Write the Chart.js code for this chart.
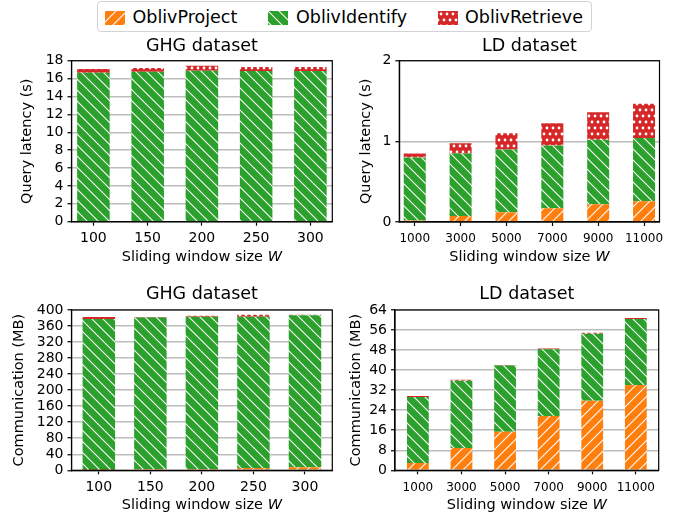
<!DOCTYPE html>
<html>
<head>
<meta charset="utf-8">
<script src="https://cdn.jsdelivr.net/npm/chart.js@4.4.0/dist/chart.umd.min.js"></script>
<style>
  body { margin: 0; background: #fff; width: 686px; height: 520px; position: relative; overflow: hidden; font-family: 'DejaVu Sans', sans-serif; }
  canvas.plot { position: absolute; }
  #legend { position: absolute; left: 97px; top: 1px; width: 495px; height: 31px; border: 1px solid #d3d3d3; border-radius: 4px; box-sizing: border-box; }
  .patch { position: absolute; top: 9px; }
  .lbl { position: absolute; top: 5px; font-size: 17.5px; line-height: 20px; color: #000; white-space: nowrap; }
</style>
</head>
<body>
<div id="legend"></div>
<canvas class="plot" id="latGhg" width="343" height="231" style="left:0;top:35px"></canvas>
<canvas class="plot" id="latLd" width="343" height="231" style="left:343px;top:35px"></canvas>
<canvas class="plot" id="comGhg" width="343" height="232" style="left:0;top:282px"></canvas>
<canvas class="plot" id="comLd" width="343" height="232" style="left:343px;top:282px"></canvas>
<script>
// --- datos ---
const seriesNames = ['OblivProject', 'OblivIdentify', 'OblivRetrieve'];
const ghgSizes = ['100', '150', '200', '250', '300'];
const ldSizes = ['1000', '3000', '5000', '7000', '9000', '11000'];

// ticks del eje y
const ghgLatTicks = [0, 2, 4, 6, 8, 10, 12, 14, 16, 18];
const ldLatTicks = [0, 1, 2];
const ghgComTicks = [0, 40, 80, 120, 160, 200, 240, 280, 320, 360, 400];
const ldComTicks = [0, 8, 16, 24, 32, 40, 48, 56, 64];

// query latency (s), GHG
const ghgLatProject = [0.02, 0.02, 0.02, 0.02, 0.02];
const ghgLatIdentify = [16.64, 16.75, 16.86, 16.83, 16.83];
const ghgLatRetrieve = [0.41, 0.41, 0.56, 0.44, 0.44];

// query latency (s), LD
const ldLatProject = [0.02, 0.075, 0.12, 0.17, 0.22, 0.257];
const ldLatIdentify = [0.78, 0.775, 0.78, 0.78, 0.80, 0.786];
const ldLatRetrieve = [0.05, 0.125, 0.20, 0.275, 0.34, 0.423];

// communication (MB), GHG
const ghgComProject = [0.5, 3.3, 3.3, 5.8, 7.5];
const ghgComIdentify = [377, 377.7, 380.1, 377.6, 379.2];
const ghgComRetrieve = [5.0, 1.5, 2.5, 5.0, 1.7];

// communication (MB), LD
const ldComProject = [2.93, 8.9, 15.4, 21.7, 27.8, 34.06];
const ldComIdentify = [26.34, 26.9, 26.4, 26.6, 26.7, 26.34];
const ldComRetrieve = [0.4, 0.4, 0.2, 0.3, 0.4, 0.4];

const FONT = "'DejaVu Sans', sans-serif";
const ORANGE = '#ff7f0e', GREEN = '#2ca02c', RED = '#d62728';

// --- patrones (hatch) ---
function hatch(kind, color) {
    const s = kind === 'dots' ? 12 : 11;
    const c = document.createElement('canvas');
    c.width = s; c.height = s;
    const g = c.getContext('2d');
    g.fillStyle = color;
    g.fillRect(0, 0, s, s);
    g.strokeStyle = '#fff';
    g.fillStyle = '#fff';
    g.lineWidth = 1.1;
    if (kind === 'dots') {
        const dots = [[3, 3], [9, 3], [0, 9], [6, 9], [12, 9]];
        dots.forEach(([x, y]) => {
            g.beginPath();
            g.arc(x, y, 1.4, 0, Math.PI * 2);
            g.fill();
        });
    } else {
        for (const o of [-s, 0, s]) {
            g.beginPath();
            if (kind === 'back') { g.moveTo(o - 1, -1); g.lineTo(o + s + 1, s + 1); }
            else { g.moveTo(o - 1, s + 1); g.lineTo(o + s + 1, -1); }
            g.stroke();
        }
    }
    return g.createPattern(c, 'repeat');
}

const fills = [hatch('fwd', ORANGE), hatch('back', GREEN), hatch('dots', RED)];

// --- leyenda ---
const legendItems = [
    { patch: 104, text: 131.5 },
    { patch: 267, text: 295 },
    { patch: 437, text: 464 }
];
legendItems.forEach((it, i) => {
    const pc = document.createElement('canvas');
    pc.width = 20; pc.height = 14;
    pc.className = 'patch';
    pc.style.left = (it.patch - 97) + 'px';
    const pg = pc.getContext('2d');
    pg.fillStyle = fills[i];
    pg.fillRect(0, 0, 20, 14);
    document.getElementById('legend').appendChild(pc);
    const sp = document.createElement('span');
    sp.className = 'lbl';
    sp.style.left = (it.text - 97) + 'px';
    sp.textContent = seriesNames[i];
    document.getElementById('legend').appendChild(sp);
});

// --- plugins ---
const frame = {
    id: 'frame',
    afterDatasetsDraw(chart) {
        const { ctx, chartArea: a } = chart;
        ctx.save();
        ctx.strokeStyle = '#000';
        ctx.lineWidth = 1.2;
        ctx.strokeRect(a.left, a.top, a.right - a.left, a.bottom - a.top);
        ctx.restore();
    }
};

// título centrado sobre el área del gráfico + "Sliding window size W" con W en cursiva
const labels = {
    id: 'labels',
    afterDraw(chart) {
        const { ctx, chartArea: a } = chart;
        const o = chart.options.plugins.labels;
        const cx = (a.left + a.right) / 2;
        ctx.save();
        ctx.fillStyle = '#000';
        ctx.textBaseline = 'middle';
        ctx.textAlign = 'center';
        ctx.font = '17.5px ' + FONT;
        ctx.fillText(o.title, cx, a.top - o.titleDy);

        ctx.textAlign = 'left';
        const y = a.bottom + o.xLabelDy;
        const main = 'Sliding window size ';
        ctx.font = '14.5px ' + FONT;
        const w1 = ctx.measureText(main).width;
        ctx.font = 'italic 14.5px ' + FONT;
        const w2 = ctx.measureText('W').width;
        const x0 = cx - (w1 + w2) / 2;
        ctx.font = '14.5px ' + FONT;
        ctx.fillText(main, x0, y);
        ctx.font = 'italic 14.5px ' + FONT;
        ctx.fillText('W', x0 + w1, y);
        ctx.restore();
    }
};

function makeChart(id, cats, yTicks, proj, ident, retr, cfg) {
    const pts = arr => arr.map((v, i) => ({ x: i, y: v }));
    const values = [proj, ident, retr];
    new Chart(document.getElementById(id), {
        type: 'bar',
        data: {
            datasets: values.map((v, i) => ({
                label: seriesNames[i],
                data: pts(v),
                backgroundColor: fills[i],
                borderWidth: 0
            }))
        },
        options: {
            responsive: false,
            animation: false,
            layout: { padding: { top: cfg.padTop, right: cfg.padRight } },
            datasets: { bar: { categoryPercentage: 1, barPercentage: cfg.barWidth } },
            plugins: {
                legend: { display: false },
                tooltip: { enabled: false },
                title: { display: false },
                labels: { title: cfg.title, titleDy: cfg.titleDy, xLabelDy: cfg.xLabelDy }
            },
            scales: {
                x: {
                    type: 'linear',
                    stacked: true,
                    offset: false,
                    min: cfg.xmin,
                    max: cfg.xmax,
                    afterBuildTicks: s => { s.ticks = cats.map((c, i) => ({ value: i })); },
                    afterFit: s => { s.height = cfg.xHeight; },
                    ticks: {
                        callback: v => cats[v],
                        color: '#000',
                        font: { size: cfg.xFont, family: FONT },
                        padding: cfg.xPad,
                        maxRotation: 0,
                        autoSkip: false
                    },
                    grid: { offset: false, drawOnChartArea: false, tickLength: 4, tickColor: '#000', tickWidth: 1.2 },
                    border: { color: '#000', width: 1.2 }
                },
                y: {
                    stacked: true,
                    min: 0,
                    max: yTicks[yTicks.length - 1],
                    afterBuildTicks: s => { s.ticks = yTicks.map(v => ({ value: v })); },
                    afterFit: s => { s.width = cfg.yWidth; },
                    ticks: {
                        autoSkip: false,
                        color: '#000',
                        font: { size: 14, family: FONT },
                        padding: 4
                    },
                    grid: { color: '#bdbdbd', lineWidth: 1.5, tickLength: 4, tickColor: '#000', tickWidth: 1.2 },
                    border: { color: '#000', width: 1.2 },
                    title: {
                        display: true,
                        text: cfg.ylabel,
                        color: '#000',
                        font: { size: 14.5, family: FONT },
                        padding: { top: cfg.yTitlePad, bottom: 0 }
                    }
                }
            }
        },
        plugins: [frame, labels]
    });
}

makeChart('latGhg', ghgSizes, ghgLatTicks, ghgLatProject, ghgLatIdentify, ghgLatRetrieve, {
    title: 'GHG dataset', ylabel: 'Query latency (s)',
    xmin: -0.404, xmax: 4.404, barWidth: 0.6, xFont: 14, xPad: 4.4,
    yWidth: 71.5, padRight: 10.7, padTop: 25.7, xHeight: 44.3, titleDy: 14.2,
    yTitlePad: 18.8, xLabelDy: 35.3
});
makeChart('latLd', ldSizes, ldLatTicks, ldLatProject, ldLatIdentify, ldLatRetrieve, {
    title: 'LD dataset', ylabel: 'Query latency (s)',
    xmin: -0.337, xmax: 5.337, barWidth: 0.48, xFont: 12, xPad: 5.5,
    yWidth: 56.3, padRight: 26.5, padTop: 25.7, xHeight: 44, titleDy: 14.2,
    yTitlePad: 14.6, xLabelDy: 35
});
makeChart('comGhg', ghgSizes, ghgComTicks, ghgComProject, ghgComIdentify, ghgComRetrieve, {
    title: 'GHG dataset', ylabel: 'Communication (MB)',
    xmin: -0.53, xmax: 4.53, barWidth: 0.63, xFont: 14, xPad: 4.8,
    yWidth: 71.5, padRight: 10.7, padTop: 28, xHeight: 43.7, titleDy: 15.5,
    yTitlePad: 10.3, xLabelDy: 34.7
});
makeChart('comLd', ldSizes, ldComTicks, ldComProject, ldComIdentify, ldComRetrieve, {
    title: 'LD dataset', ylabel: 'Communication (MB)',
    xmin: -0.525, xmax: 5.525, barWidth: 0.5, xFont: 12, xPad: 6,
    yWidth: 52, padRight: 27.3, padTop: 28, xHeight: 43.7, titleDy: 15.5,
    yTitlePad: 4.6, xLabelDy: 34.7
});
</script>
</body>
</html>
